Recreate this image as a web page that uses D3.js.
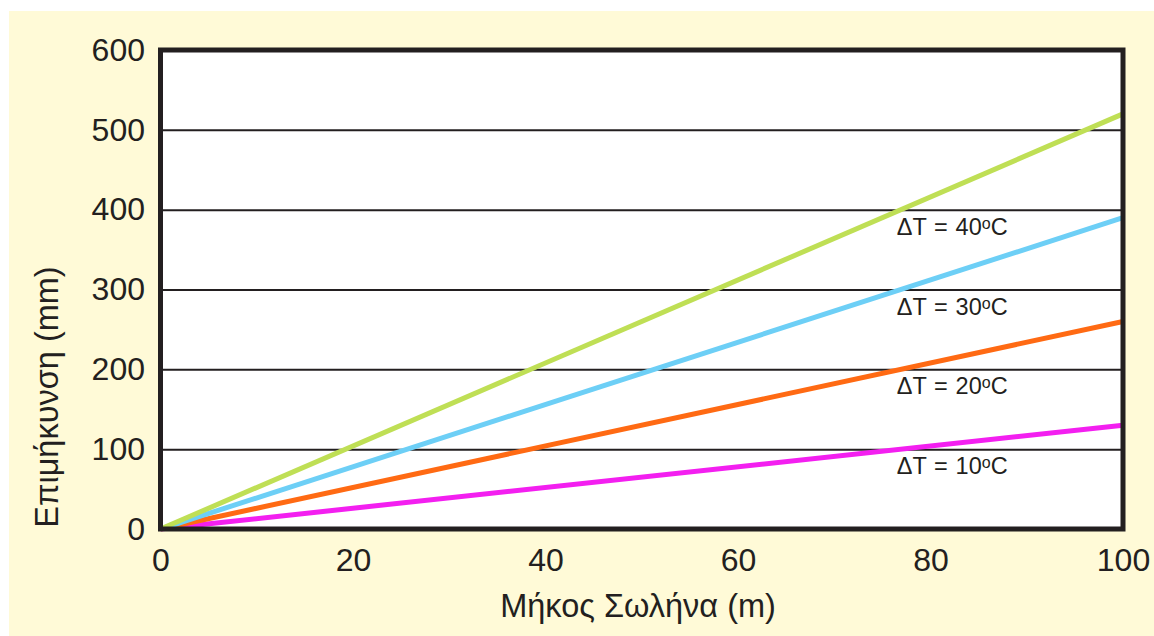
<!DOCTYPE html>
<html><head><meta charset="utf-8">
<script src="https://cdn.jsdelivr.net/npm/d3@7"></script>
<style>body{margin:0;background:#fff;}svg{display:block;}</style>
</head><body>
<script>
const lengths = [0, 100];
const seriesTemps = ["10", "20", "30", "40"];
const series10 = [0, 130];
const series20 = [0, 260];
const series30 = [0, 390];
const series40 = [0, 520];
const xTicks = [0, 20, 40, 60, 80, 100];
const yTicks = [0, 100, 200, 300, 400, 500, 600];
const colors = ["#f31ff0", "#ff6a13", "#6dcff6", "#bfdf55"];
const labelAnchors = [100, 200, 300, 400];

const W = 1154, H = 636;
const svg = d3.select("body").append("svg").attr("width", W).attr("height", H);
svg.append("rect").attr("x", 9).attr("y", 11).attr("width", W - 9).attr("height", H - 11).attr("fill", "#fffad7");

const x = d3.scaleLinear().domain([0, 100]).range([160.5, 1123]);
const y = d3.scaleLinear().domain([0, 600]).range([529, 50]);
const font = "'Liberation Sans', Arial, sans-serif";
const ink = "#231f20";

svg.append("rect").attr("x", x(0)).attr("y", y(600)).attr("width", x(100) - x(0)).attr("height", y(0) - y(600)).attr("fill", "#fff");

// gridlines
const grid = d3.axisLeft(y).tickValues(yTicks.slice(1, -1)).tickSize(-(x(100) - x(0))).tickFormat("");
const gg = svg.append("g").attr("transform", `translate(${x(0)},0)`).call(grid);
gg.select(".domain").remove();
gg.selectAll("line").attr("stroke", ink).attr("stroke-width", 2);

// lines
const allSeries = [series10, series20, series30, series40];
const line = d3.line().x((d, i) => x(lengths[i])).y(d => y(d));
allSeries.forEach((s, i) => {
  svg.append("path").datum(s).attr("d", line).attr("fill", "none").attr("stroke", colors[i]).attr("stroke-width", 5);
});

// labels
labelAnchors.forEach((v, i) => {
  const t = svg.append("text").attr("x", x(76.5)).attr("y", y(v) + 25)
    .attr("font-family", font).attr("font-size", 23.5).attr("fill", ink);
  t.append("tspan").text("ΔT");
  t.append("tspan").attr("dx", 7).text("=");
  t.append("tspan").attr("dx", 8).text(seriesTemps[i]);
  t.append("tspan").attr("font-size", 16).attr("dy", -6).text("o");
  t.append("tspan").attr("dy", 6).text("C");
});

// border
svg.append("rect").attr("x", x(0)).attr("y", y(600)).attr("width", x(100) - x(0)).attr("height", y(0) - y(600)).attr("fill", "none").attr("stroke", ink).attr("stroke-width", 5);

// axes labels
const yAxis = d3.axisLeft(y).tickValues(yTicks).tickSize(0).tickPadding(15.5);
const ya = svg.append("g").attr("transform", `translate(${x(0)},0)`).call(yAxis);
ya.select(".domain").remove();
ya.selectAll("text").attr("font-family", font).attr("font-size", 32).attr("fill", ink);

const xAxis = d3.axisBottom(x).tickValues(xTicks).tickSize(0).tickPadding(19);
const xa = svg.append("g").attr("transform", `translate(0,${y(0)})`).call(xAxis);
xa.select(".domain").remove();
xa.selectAll("text").attr("font-family", font).attr("font-size", 32).attr("fill", ink);

svg.append("text").attr("x", 638).attr("y", 617).attr("text-anchor", "middle").attr("font-family", font).attr("font-size", 32.5).attr("fill", ink).text("Μήκος Σωλήνα (m)");
svg.append("text").attr("transform", "translate(58,397) rotate(-90)").attr("text-anchor", "middle").attr("font-family", font).attr("font-size", 32.5).attr("fill", ink).text("Επιμήκυνση (mm)");
</script>
</body></html>
